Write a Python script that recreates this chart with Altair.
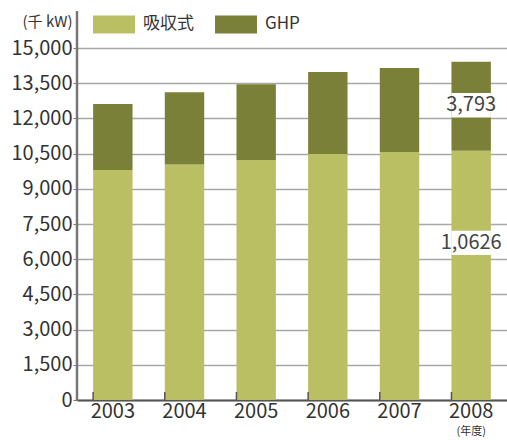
import altair as alt
import pandas as pd

years = ["2003", "2004", "2005", "2006", "2007", "2008"]
absorption = [9800, 10040, 10230, 10480, 10570, 10626]
ghp = [2810, 3070, 3230, 3500, 3580, 3793]
series = ["吸収式", "GHP"]
colors = ["#b9bf62", "#7b8039"]
y_ticks = list(range(0, 15001, 1500))
label_year = "2008"
label_texts = ["1,0626", "3,793"]

FONT = "Noto Sans CJK JP"
TXT = "#333333"

df = pd.DataFrame({
    "year": years * 2,
    "series": [series[0]] * len(years) + [series[1]] * len(years),
    "value": absorption + ghp,
    "order": [0] * len(years) + [1] * len(years),
})

lab = pd.DataFrame({
    "year": [label_year, label_year],
    "text": label_texts,
    "pos": [0.63 * absorption[-1], absorption[-1] + 0.51 * ghp[-1]],
})

xscale = alt.Scale(domain=years, paddingInner=0.45, paddingOuter=0.225)
yscale = alt.Scale(domain=[0, 15000], nice=False)

xaxis = alt.Axis(labelAngle=0, labelFont=FONT, labelFontSize=20, labelColor=TXT,
                 ticks=False, labelPadding=1, domainColor="#555555", domainWidth=2,
                 grid=False, title=None)
yaxis = alt.Axis(values=y_ticks, labelExpr="format(datum.value, ',d')",
                 labelFont=FONT, labelFontSize=20,
                 labelColor=TXT, grid=True, gridColor="#a8a8a8", gridWidth=1.6,
                 gridOpacity=1,
                 domain=False, tickSize=4, tickColor="#777777", labelPadding=1,
                 title="(千 kW)", titleAngle=0, titleAlign="right", titleBaseline="middle",
                 titleX=-5, titleY=-27, titleFont=FONT, titleFontSize=15,
                 titleFontWeight="normal", titleColor=TXT)

bars = alt.Chart(df).mark_bar().encode(
    x=alt.X("year:N", scale=xscale, axis=xaxis),
    y=alt.Y("value:Q", stack="zero", scale=yscale, axis=yaxis),
    color=alt.Color("series:N", scale=alt.Scale(domain=series, range=colors),
                    legend=alt.Legend(title=None, orient="none", legendX=16, legendY=-45,
                                      direction="horizontal",
                                      symbolType="M-1,-0.43H1V0.43H-1Z", symbolSize=1764,
                                      symbolStrokeWidth=0, labelFont=FONT, labelFontSize=17,
                                      labelColor=TXT, labelOffset=8, columnPadding=21)),
    order=alt.Order("order:Q"),
)

boxes = alt.Chart(lab).transform_calculate(
    lo="datum.pos - 520", hi="datum.pos + 520"
).mark_bar(color="white").encode(
    x=alt.X("year:N", scale=xscale, axis=xaxis),
    y=alt.Y("lo:Q", scale=yscale, axis=yaxis),
    y2="hi:Q",
)

texts = alt.Chart(lab).mark_text(font=FONT, fontSize=20, color="#444444", baseline="middle").encode(
    x=alt.X("year:N", scale=xscale, axis=xaxis),
    y=alt.Y("pos:Q", scale=yscale, axis=yaxis),
    text="text:N",
)

upticks = alt.Chart(pd.DataFrame({"year": years})).mark_rule(color="#555555", strokeWidth=1.5).encode(
    x=alt.X("year:N", scale=xscale, bandPosition=0, axis=xaxis),
    y=alt.value(352),
    y2=alt.value(344),
)

yline = alt.Chart(pd.DataFrame({"a": [0]})).mark_rule(color="#777777", strokeWidth=2.5).encode(
    x=alt.value(0), y=alt.value(-37), y2=alt.value(352)
)

unit = alt.Chart(pd.DataFrame({"year": [label_year], "t": ["(年度)"]})).mark_text(
    font=FONT, fontSize=11, color=TXT, baseline="middle"
).encode(
    x=alt.X("year:N", scale=xscale, axis=xaxis),
    y=alt.value(384),
    text="t:N",
)

chart = alt.layer(bars, boxes, texts, upticks, yline, unit).properties(
    width=430, height=352,
    autosize=alt.AutoSizeParams(type="none"),
    padding={"left": 77, "top": 48, "right": 0, "bottom": 40},
).configure_view(stroke=None).configure(background="white")

chart.save("out.html", embed_options={"renderer": "svg", "actions": False})
